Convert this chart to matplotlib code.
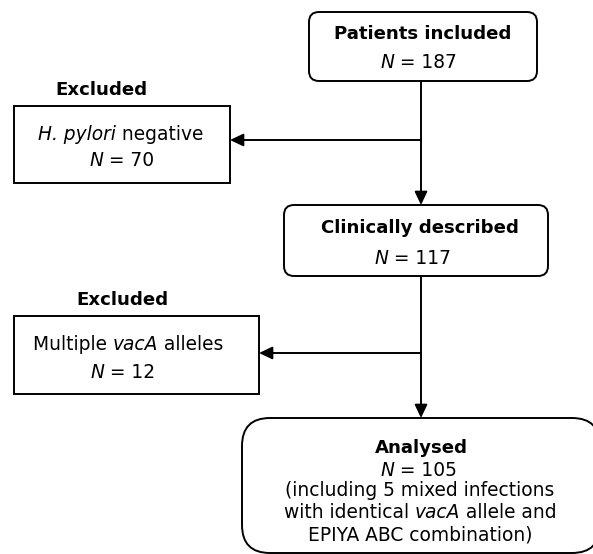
import matplotlib
matplotlib.use("Agg")
import matplotlib.pyplot as plt
from matplotlib.patches import FancyBboxPatch, Rectangle

plt.rcParams['font.family'] = ['DejaVu Sans']

# Data
titles = ["Patients included", "Clinically described", "Analysed"]
main_counts = [187, 117, 105]
excl_title = "Excluded"
excl_labels = [[("H. pylori", "italic"), (" negative", "normal")],
               [("Multiple ", "normal"), ("vacA", "italic"), (" alleles", "normal")]]
excl_counts = [70, 12]
analysed_note = [[("(including 5 mixed infections", "normal")],
                 [("with identical ", "normal"), ("vacA", "italic"), (" allele and", "normal")],
                 [("EPIYA ABC combination)", "normal")]]

W, H = 593, 554
fig = plt.figure(figsize=(W/100, H/100), dpi=100)
ax = fig.add_axes([0, 0, 1, 1])
ax.set_xlim(0, W)
ax.set_ylim(H, 0)
ax.axis('off')
renderer = fig.canvas.get_renderer()

lw = 1.4
fs = 13.4
fsb = 13.1

def rbox(x0, y0, x1, y1, r):
    ax.add_patch(FancyBboxPatch((x0, y0), x1-x0, y1-y0,
                 boxstyle=f"round,pad=0,rounding_size={r}",
                 fc='white', ec='black', lw=lw))

def sbox(x0, y0, x1, y1):
    ax.add_patch(Rectangle((x0, y0), x1-x0, y1-y0, fc='white', ec='black', lw=lw))

def arrow(x0, y0, x1, y1):
    ax.annotate("", xy=(x1, y1), xytext=(x0, y0),
                arrowprops=dict(arrowstyle="-|>,head_length=0.8,head_width=0.38",
                                lw=lw, color='black', shrinkA=0, shrinkB=0))

def rich(x, y, pieces, weight='normal'):
    texts = []
    total = 0
    size = fsb if weight == 'bold' else fs
    for s, style in pieces:
        t = ax.text(0, y, s, ha='left', va='center', fontsize=size, fontstyle=style,
                    fontweight=weight)
        w = t.get_window_extent(renderer).width
        texts.append((t, w))
        total += w
    cur = x - total / 2
    for t, w in texts:
        t.set_x(cur)
        cur += w

def nline(n):
    return [("N", "italic"), (" = " + str(n), "normal")]

cx = 421
arrow(cx, 81, cx, 205)
arrow(cx, 140, 230, 140)
arrow(cx, 276, cx, 418)
arrow(cx, 353, 259, 353)

rbox(309, 12, 537, 81, 10)
rich(423, 34, [(titles[0], "normal")], weight='bold')
rich(419, 62, nline(main_counts[0]))

rbox(284, 205, 548, 276, 10)
rich(420, 228, [(titles[1], "normal")], weight='bold')
rich(413, 258, nline(main_counts[1]))

rich(101, 90, [(excl_title, "normal")], weight='bold')
sbox(14, 106, 230, 183)
rich(121, 134, excl_labels[0])
rich(122, 161, nline(excl_counts[0]))

rich(122, 300, [(excl_title, "normal")], weight='bold')
sbox(14, 316, 259, 394)
rich(128, 345, excl_labels[1])
rich(123, 372, nline(excl_counts[1]))

rbox(242, 418, 600, 553, 28)
rich(421, 448, [(titles[2], "normal")], weight='bold')
rich(419, 470, nline(main_counts[2]))
for i, line in enumerate(analysed_note):
    rich(420, 491 + i*22, line)

fig.savefig("out.png", dpi=100)
